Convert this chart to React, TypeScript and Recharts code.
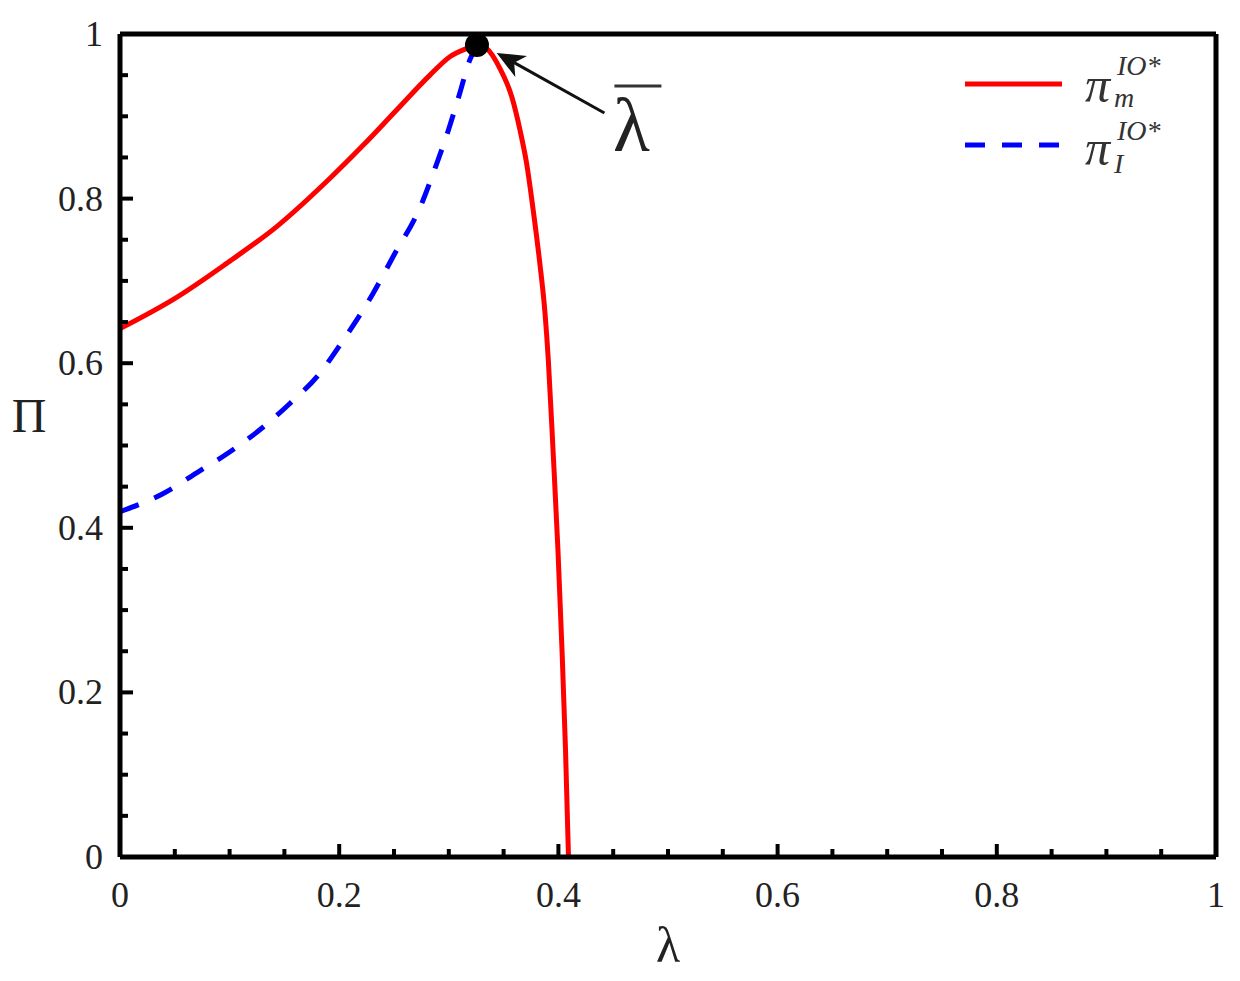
import React from 'react';
import { LineChart, Line, XAxis, YAxis, ReferenceDot, ReferenceLine, Legend, Label } from 'recharts';

// ---- data ----
const lambdaM = [0, 0.0517, 0.097, 0.143, 0.1916, 0.222, 0.2524, 0.2828, 0.301, 0.3163, 0.3257, 0.3345, 0.3467, 0.3574, 0.365, 0.371, 0.377, 0.383, 0.3878, 0.3908, 0.3951, 0.3996, 0.4033, 0.4065, 0.4092];
const piM = [0.642, 0.68, 0.721, 0.766, 0.8247, 0.865, 0.9077, 0.95, 0.9724, 0.9824, 0.9866, 0.9824, 0.958, 0.924, 0.883, 0.8427, 0.786, 0.722, 0.6606, 0.604, 0.4945, 0.373, 0.2515, 0.13, 0];
const lambdaI = [0, 0.0395, 0.0714, 0.1004, 0.1293, 0.155, 0.181, 0.2037, 0.231, 0.249, 0.2753, 0.2874, 0.2996, 0.31, 0.319, 0.3257];
const piI = [0.4196, 0.4417, 0.468, 0.4924, 0.5209, 0.551, 0.5857, 0.628, 0.685, 0.729, 0.794, 0.8367, 0.883, 0.928, 0.968, 0.9866];
const axisTicks = [0, 0.05, 0.1, 0.15, 0.2, 0.25, 0.3, 0.35, 0.4, 0.45, 0.5, 0.55, 0.6, 0.65, 0.7, 0.75, 0.8, 0.85, 0.9, 0.95, 1];
const majorTicks = [0, 0.2, 0.4, 0.6, 0.8, 1];
const seriesSub = ['m', 'I'];
const peakPoint = { x: 0.3257, y: 0.9866 };
const arrowTail = { x: 0.442, y: 0.904 };
const arrowHead = { x: 0.3437, y: 0.977 };

const redData = lambdaM.map((x, i) => ({ x, y: piM[i] }));
const blueData = lambdaI.map((x, i) => ({ x, y: piI[i] }));

const FONT = '"Liberation Serif", "DejaVu Serif", serif';
const TXT = '#222';

const isMajor = (v: number) => majorTicks.some((m) => Math.abs(m - v) < 1e-6);
const fmt = (v: number) => String(v);

const makeTick = (side: 'bottom' | 'top' | 'left' | 'right') => (props: any) => {
  const { x, y, payload } = props;
  const v = payload.value;
  const major = isMajor(v);
  const len = major ? 13 : 8;
  let line: any = null;
  let label: any = null;
  if (side === 'bottom') {
    line = <line x1={x} y1={y} x2={x} y2={y - len} />;
    if (major)
      label = (
        <text x={x} y={y + 50} textAnchor="middle" fontFamily={FONT} fontSize={36} fill={TXT}>
          {fmt(v)}
        </text>
      );
  } else if (side === 'top') {
    line = <line x1={x} y1={y} x2={x} y2={y + len} />;
  } else if (side === 'left') {
    line = <line x1={x} y1={y} x2={x + len} y2={y} />;
    if (major)
      label = (
        <text x={x - 17} y={y + 12} textAnchor="end" fontFamily={FONT} fontSize={36} fill={TXT}>
          {fmt(v)}
        </text>
      );
  } else {
    line = <line x1={x} y1={y} x2={x - len} y2={y} />;
  }
  return (
    <g>
      <g stroke="#000" strokeWidth={4}>{line}</g>
      {label}
    </g>
  );
};

const ArrowShape = (p: any) => {
  const { x1, y1, x2, y2 } = p;
  const dx = x2 - x1;
  const dy = y2 - y1;
  const L = Math.hypot(dx, dy) || 1;
  const ux = dx / L;
  const uy = dy / L;
  const px = -uy;
  const py = ux;
  const hl = 28;
  const hw = 12;
  const notch = 8;
  const bx = x2 - ux * hl;
  const by = y2 - uy * hl;
  const nx = x2 - ux * (hl - notch);
  const ny = y2 - uy * (hl - notch);
  const pts = [
    [x2, y2],
    [bx + px * hw, by + py * hw],
    [nx, ny],
    [bx - px * hw, by - py * hw],
  ]
    .map((q) => q.join(','))
    .join(' ');
  return (
    <g>
      <line x1={x1} y1={y1} x2={nx} y2={ny} stroke="#111" strokeWidth={3} />
      <polygon points={pts} fill="#111" />
      <line x1={x1 + 10} y1={y1 - 27} x2={x1 + 57} y2={y1 - 27} stroke="#333" strokeWidth={3} />
      <text x={x1 + 27} y={y1 + 38} textAnchor="middle" fontFamily={FONT} fontSize={76} fill={TXT}>
        λ
      </text>
    </g>
  );
};

const renderLegend = (props: any) => {
  const items = [...(props.payload || [])].sort(
    (a: any, b: any) => seriesSub.indexOf(a.value) - seriesSub.indexOf(b.value)
  );
  const lineY = [44, 105];
  const piY = [62, 125];
  const supY = [35, 100];
  const subY = [67, 133];
  return (
    <svg width={260} height={150} style={{ display: 'block' }}>
      {items.map((it: any, i: number) => (
        <g key={i}>
          <line
            x1={15}
            x2={112}
            y1={lineY[i]}
            y2={lineY[i]}
            stroke={it.color}
            strokeWidth={5}
            strokeDasharray={it.payload && it.payload.strokeDasharray ? it.payload.strokeDasharray : undefined}
          />
          <text x={135} y={piY[i]} fontFamily={FONT} fontStyle="italic" fontSize={50} fill="#333">
            π
          </text>
          <text x={167} y={supY[i]} fontFamily={FONT} fontStyle="italic" fontSize={28} fill="#333">
            IO*
          </text>
          <text x={164} y={subY[i]} fontFamily={FONT} fontStyle="italic" fontSize={28} fill="#333">
            {it.value}
          </text>
        </g>
      ))}
    </svg>
  );
};

export default function App() {
  return (
    <LineChart width={1224} height={972} margin={{ top: 25, right: 15, bottom: 12, left: 0 }}>
      <XAxis
        xAxisId={0}
        type="number"
        dataKey="x"
        domain={[0, 1]}
        ticks={axisTicks}
        interval={0}
        allowDataOverflow
        height={111}
        tickSize={0}
        tickMargin={0}
        tickLine={false}
        axisLine={{ stroke: '#000', strokeWidth: 5 }}
        tick={makeTick('bottom')}
      >
        <Label
          content={(p: any) => {
            const vb = p.viewBox || { x: 112, y: 849, width: 1096 };
            return (
              <text x={vb.x + vb.width / 2} y={vb.y + 105} textAnchor="middle" fontFamily={FONT} fontSize={50} fill={TXT}>
                λ
              </text>
            );
          }}
        />
      </XAxis>
      <XAxis
        xAxisId="top"
        orientation="top"
        type="number"
        dataKey="x"
        domain={[0, 1]}
        ticks={axisTicks}
        interval={0}
        height={1}
        tickSize={0}
        tickMargin={0}
        tickLine={false}
        axisLine={{ stroke: '#000', strokeWidth: 5 }}
        tick={makeTick('top')}
      />
      <YAxis
        yAxisId={0}
        type="number"
        domain={[0, 1]}
        ticks={axisTicks}
        interval={0}
        allowDataOverflow
        width={112}
        tickSize={0}
        tickMargin={0}
        tickLine={false}
        axisLine={{ stroke: '#000', strokeWidth: 5 }}
        tick={makeTick('left')}
      >
        <Label
          content={(p: any) => {
            const vb = p.viewBox || { x: 0, y: 26 };
            return (
              <text x={vb.x + 21} y={vb.y + 398} textAnchor="middle" fontFamily={FONT} fontSize={48} fill={TXT}>
                Π
              </text>
            );
          }}
        />
      </YAxis>
      <YAxis
        yAxisId="right"
        orientation="right"
        type="number"
        domain={[0, 1]}
        ticks={axisTicks}
        interval={0}
        width={1}
        tickSize={0}
        tickMargin={0}
        tickLine={false}
        axisLine={{ stroke: '#000', strokeWidth: 5 }}
        tick={makeTick('right')}
      />
      <Line
        data={redData}
        dataKey="y"
        name={seriesSub[0]}
        type="monotone"
        stroke="#ff0000"
        strokeWidth={5}
        dot={false}
        activeDot={false}
        isAnimationActive={false}
      />
      <Line
        data={blueData}
        dataKey="y"
        name={seriesSub[1]}
        type="monotone"
        stroke="#0000ff"
        strokeWidth={5}
        strokeDasharray="20 17"
        dot={false}
        activeDot={false}
        isAnimationActive={false}
      />
      <ReferenceLine segment={[arrowTail, arrowHead]} ifOverflow="visible" shape={ArrowShape} />
      <ReferenceDot x={peakPoint.x} y={peakPoint.y} r={12} fill="#000" stroke="none" ifOverflow="visible" />
      <Legend
        layout="vertical"
        align="center"
        verticalAlign="middle"
        content={renderLegend}
        wrapperStyle={{ position: 'absolute', left: 942, top: 32, width: 260, height: 150 }}
      />
    </LineChart>
  );
}
